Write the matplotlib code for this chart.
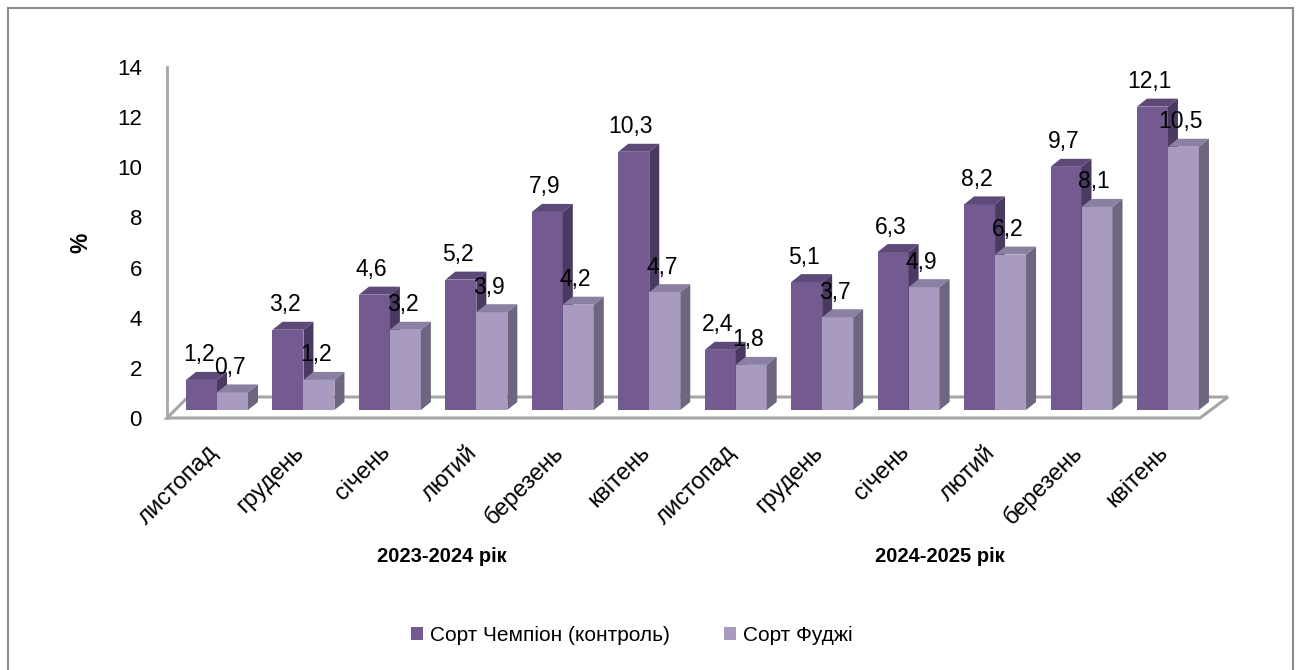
import matplotlib
matplotlib.use("Agg")
import matplotlib.pyplot as plt
from matplotlib.patches import Polygon, Rectangle
from matplotlib.transforms import ScaledTranslation, blended_transform_factory

months = ["листопад", "грудень", "січень", "лютий", "березень", "квітень",
          "листопад", "грудень", "січень", "лютий", "березень", "квітень"]
season_labels = ["2023-2024 рік", "2024-2025 рік"]
champion = [1.2, 3.2, 4.6, 5.2, 7.9, 10.3, 2.4, 5.1, 6.3, 8.2, 9.7, 12.1]
fuji = [0.7, 1.2, 3.2, 3.9, 4.2, 4.7, 1.8, 3.7, 4.9, 6.2, 8.1, 10.5]
series_names = ["Сорт Чемпіон (контроль)", "Сорт Фуджі"]
yticks = [0, 2, 4, 6, 8, 10, 12, 14]
ylabel = "%"

FONT = ["Liberation Sans", "DejaVu Sans"]
plt.rcParams["font.family"] = FONT

W, H, DPI = 1299, 670, 100
fig = plt.figure(figsize=(W / DPI, H / DPI), dpi=DPI)

ax_l, ax_r, ax_b, ax_t = 167, 1230, 418, 67
ax = fig.add_axes([ax_l / W, 1 - ax_b / H, (ax_r - ax_l) / W, (ax_b - ax_t) / H])
group_px = 86.45
first_px = 217
xmin = (ax_l - first_px) / group_px
xmax = (ax_r - first_px) / group_px
ax.set_xlim(xmin, xmax)
ax.set_ylim(0, 14)
xpp = (xmax - xmin) / (ax_r - ax_l)
ypp = 14 / (ax_b - ax_t)

c_front = ["#735a91", "#a99bbf"]
c_top = ["#5e4a79", "#8c80a2"]
c_side = ["#4a3a62", "#6e6681"]
gray = "#a6a6a6"

floor = Polygon([(xmin, 0), ((1200 - first_px) / group_px, 0),
                 ((1228 - first_px) / group_px, 21 * ypp),
                 ((188 - first_px) / group_px, 21 * ypp)],
                closed=True, facecolor="white", edgecolor=gray, lw=2.2,
                clip_on=False, zorder=1)
ax.add_patch(floor)

shift = ax.transData + ScaledTranslation(0, 8 / DPI, fig.dpi_scale_trans)
bw = 31 * xpp
dx, dy = 10 * xpp, 8 * ypp
x = list(range(len(months)))
for i in x:
    for s, vals in enumerate([champion, fuji]):
        v = vals[i]
        x0 = i - bw + s * bw
        x1 = x0 + bw
        ax.bar(x0, v, width=bw, align="edge", color=c_front[s], transform=shift,
               zorder=3, clip_on=False, linewidth=0)
        top = Polygon([(x0, v), (x1, v), (x1 + dx, v + dy), (x0 + dx, v + dy)],
                      closed=True, facecolor=c_top[s], lw=0, transform=shift,
                      zorder=3, clip_on=False)
        side = Polygon([(x1, 0), (x1 + dx, dy), (x1 + dx, v + dy), (x1, v)],
                       closed=True, facecolor=c_side[s], lw=0, transform=shift,
                       zorder=3, clip_on=False)
        ax.add_patch(top)
        ax.add_patch(side)
        ax.annotate(f"{v:.1f}".replace(".", ","), xy=(x0 + bw / 2, v),
                    xycoords=shift, xytext=(-2, 25 * 72 / DPI),
                    textcoords="offset points", ha="center", va="center",
                    fontsize=16.5, zorder=5)

for sp in ["top", "right", "bottom"]:
    ax.spines[sp].set_visible(False)
ax.spines["left"].set_color(gray)
ax.spines["left"].set_linewidth(2)
ax.set_yticks(yticks)
ax.set_yticklabels([str(t) for t in yticks], fontsize=16)
ax.tick_params(axis="y", length=0, pad=25 * 72 / DPI)
ax.set_xticks(x)
ax.set_xticklabels(months, rotation=45, ha="right", rotation_mode="anchor",
                   va="center", fontsize=17)
ax.tick_params(axis="x", length=0, pad=31 * 72 / DPI)
for lab in ax.get_xticklabels():
    lab.set_transform(lab.get_transform() + ScaledTranslation(-3 / DPI, 0, fig.dpi_scale_trans))
ax.patch.set_visible(False)

ax.set_ylabel(ylabel, fontsize=16.5, fontweight="bold", labelpad=0)
ax.yaxis.set_label_coords((92 - ax_l) / (ax_r - ax_l), 1 - (243 - ax_t) / (ax_b - ax_t))

bt = blended_transform_factory(ax.transData, fig.transFigure)
ax.text(2.6, 1 - 557 / H, season_labels[0], transform=bt, ha="center", va="center",
        fontsize=14.5, fontweight="bold")
ax.text(8.36, 1 - 557 / H, season_labels[1], transform=bt, ha="center", va="center",
        fontsize=14.5, fontweight="bold")

handles = [Rectangle((0, 0), 1, 1, facecolor=c) for c in c_front]
fig.legend(handles, series_names, loc="center", bbox_to_anchor=(632 / W, 1 - 635 / H),
           ncol=2, frameon=False, fontsize=15, handlelength=0.55, handleheight=0.6,
           handletextpad=0.35, columnspacing=2.6)

border = Rectangle((8 / W, -0.02), (1293 - 8) / W, 1 - 8 / H + 0.02,
                   transform=fig.transFigure, fill=False, edgecolor="#8c8c8c", lw=1.5)
fig.patches.append(border)

fig.savefig("out.png", dpi=DPI)
